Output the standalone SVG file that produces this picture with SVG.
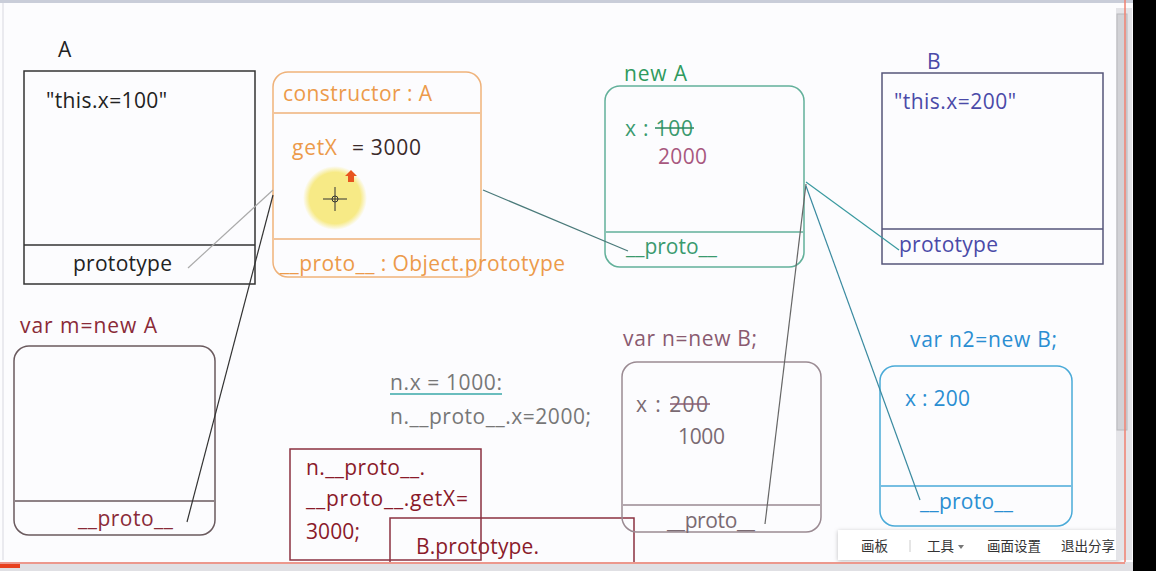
<svg xmlns="http://www.w3.org/2000/svg" width="1156" height="571" viewBox="0 0 1156 571">
<defs>
<style>
text{font-family:"Open Sans","Liberation Sans",sans-serif;font-size:21px}
.cn{font-family:"Noto Sans CJK SC","Noto Sans",sans-serif;font-size:13.5px;fill:#333}
.box{fill:none;stroke-width:1.5}
.ln{fill:none;stroke-width:1.2}
</style>
<radialGradient id="hl" cx="0.5" cy="0.5" r="0.5">
<stop offset="0.8" stop-color="#f7ea86"/>
<stop offset="1" stop-color="#f7ea86" stop-opacity="0"/>
</radialGradient>
<filter id="sh" x="-10%" y="-30%" width="120%" height="160%">
<feDropShadow dx="0" dy="1" stdDeviation="2" flood-color="#000" flood-opacity="0.25"/>
</filter>
</defs>
<rect x="0" y="0" width="1156" height="571" fill="#fcfcfe"/>
<rect x="0" y="0" width="1133" height="3" fill="#c9cdd9"/>
<line x1="3" y1="3" x2="3" y2="560" stroke="#e4e4ea" stroke-width="1.5"/>

<g id="nodeA">
<text x="58" y="57" fill="#222" textLength="15">A</text>
<rect class="box" x="24" y="71" width="231" height="213" stroke="#333"/>
<line x1="24" y1="245" x2="255" y2="245" stroke="#333" stroke-width="1.5"/>
<text x="46" y="108" fill="#222" textLength="121">"this.x=100"</text>
<text x="73" y="271" fill="#222" textLength="99">prototype</text>
</g>

<g id="protoA">
<rect class="box" x="273" y="72" width="208" height="205" rx="15" stroke="#efb27a"/>
<line x1="274" y1="113" x2="480" y2="113" stroke="#efb27a" stroke-width="1.5"/>
<line x1="274" y1="239" x2="480" y2="239" stroke="#efb27a" stroke-width="1.5"/>
<text x="283" y="101" fill="#ec9a4a" textLength="149">constructor : A</text>
<text x="292" y="155" fill="#ec9a4a" textLength="45">getX</text>
<text x="352" y="155" fill="#3a2a2a" textLength="69">= 3000</text>
<text x="280" y="271" fill="#ec9a4a" textLength="285">__proto__ : Object.prototype</text>
<circle cx="335" cy="198" r="32" fill="url(#hl)"/>
<line x1="323" y1="199" x2="347" y2="199" stroke="#333" stroke-width="1"/>
<line x1="335" y1="187" x2="335" y2="211" stroke="#333" stroke-width="1"/>
<circle cx="335" cy="199" r="3" fill="none" stroke="#333" stroke-width="1"/>
<path d="M351 170 L357 176 L354 176 L354 182 L348 182 L348 176 L345 176 Z" fill="#e8541e"/>
</g>

<g id="newA">
<text x="624" y="81" fill="#2f9a5e" textLength="63">new A</text>
<rect class="box" x="605" y="86" width="199" height="181" rx="15" stroke="#62b09a"/>
<line x1="606" y1="232" x2="803" y2="232" stroke="#62b09a" stroke-width="1.5"/>
<text x="625" y="136" fill="#3a9a6e" textLength="68">x : 100</text>
<line x1="655" y1="128" x2="694" y2="128" stroke="#2a8a5e" stroke-width="1.5"/>
<text x="658" y="164" fill="#a8587e" textLength="49">2000</text>
<text x="626" y="254" fill="#3a9a6e" textLength="91">__proto__</text>
</g>

<g id="nodeB">
<text x="927" y="69" fill="#4a4aa8" textLength="12">B</text>
<rect class="box" x="882" y="73" width="221" height="191" stroke="#55557a"/>
<line x1="882" y1="229" x2="1103" y2="229" stroke="#55557a" stroke-width="1.5"/>
<text x="894" y="109" fill="#4a4aa8" textLength="122">"this.x=200"</text>
<text x="899" y="252" fill="#4a4aa8" textLength="99">prototype</text>
</g>

<g id="objM">
<text x="20" y="333" fill="#8a2a38" textLength="137">var m=new A</text>
<rect class="box" x="14" y="346" width="201" height="189" rx="15" stroke="#6a5a5e"/>
<line x1="15" y1="501" x2="214" y2="501" stroke="#6a5a5e" stroke-width="1.5"/>
<text x="78" y="526" fill="#8a2a38" textLength="95">__proto__</text>
</g>

<g id="notes">
<text x="390" y="390" fill="#777" textLength="112">n.x = 1000:</text>
<line x1="390" y1="394" x2="502" y2="394" stroke="#3aa8a8" stroke-width="1.5"/>
<text x="390" y="424" fill="#777" textLength="201">n.__proto__.x=2000;</text>
</g>

<g id="codeBox">
<rect class="box" x="290" y="449" width="191" height="111" stroke="#8a3040"/>
<text x="306" y="475" fill="#8a1a2a" textLength="119">n.__proto__.</text>
<text x="306" y="506" fill="#8a1a2a" textLength="162">__proto__.getX=</text>
<text x="306" y="539" fill="#8a1a2a" textLength="54">3000;</text>
</g>

<g id="bProtoBox">
<rect class="box" x="390" y="518" width="244" height="50" stroke="#8a3040"/>
<text x="416" y="554" fill="#8a1a2a" textLength="123">B.prototype.</text>
</g>

<g id="objN">
<text x="623" y="346" fill="#8a5a70" textLength="134">var n=new B;</text>
<rect class="box" x="622" y="362" width="199" height="170" rx="15" stroke="#9a8a92"/>
<line x1="623" y1="505" x2="820" y2="505" stroke="#9a8a92" stroke-width="1.5"/>
<text x="636" y="412" fill="#7a6a72" textLength="72">x : 200</text>
<line x1="670" y1="404" x2="710" y2="404" stroke="#8a5a70" stroke-width="1.5"/>
<text x="678" y="444" fill="#7a6a72" textLength="47">1000</text>
<text x="667" y="528" fill="#7a6a72" textLength="88">__proto__</text>
</g>

<g id="objN2">
<text x="910" y="347" fill="#2a8ed2" textLength="147">var n2=new B;</text>
<rect class="box" x="880" y="366" width="192" height="160" rx="15" stroke="#4aaad8"/>
<line x1="881" y1="486" x2="1071" y2="486" stroke="#4aaad8" stroke-width="1.5"/>
<text x="905" y="406" fill="#2a8ed2" textLength="65">x : 200</text>
<text x="920" y="509" fill="#2a8ed2" textLength="93">__proto__</text>
</g>

<g id="connectors">
<line class="ln" x1="188" y1="268" x2="273" y2="190" stroke="#aaaaaa"/>
<line class="ln" x1="187" y1="522" x2="273" y2="195" stroke="#333"/>
<line class="ln" x1="483" y1="190" x2="628" y2="251" stroke="#4a7a7a"/>
<line class="ln" x1="806" y1="182" x2="899" y2="250" stroke="#3a9aa0"/>
<line class="ln" x1="765" y1="524" x2="806" y2="184" stroke="#666"/>
<line class="ln" x1="806" y1="186" x2="920" y2="500" stroke="#3a8aa0"/>
</g>

<g id="toolbar">
<rect x="838" y="530" width="282" height="30" fill="#fff" filter="url(#sh)"/>
<text class="cn" x="861" y="551">画板</text>
<line x1="910" y1="540" x2="910" y2="552" stroke="#ccc"/>
<text class="cn" x="927" y="551">工具</text>
<path d="M958 545 L964 545 L961 549 Z" fill="#777"/>
<text class="cn" x="987" y="551">画面设置</text>
<text class="cn" x="1061" y="551">退出分享</text>
</g>

<g id="chrome">
<rect x="1116" y="8" width="16" height="552" fill="#e4e4e8"/>
<rect x="1117" y="14" width="10" height="416" fill="#d2d2d6" stroke="#b8b8bc" stroke-width="1"/>
<line x1="1125" y1="0" x2="1125" y2="565" stroke="#f08070" stroke-width="1.5"/>
<rect x="1133" y="0" width="23" height="571" fill="#000"/>
<rect x="0" y="562" width="1133" height="9" fill="#e0e0e4"/>
<line x1="0" y1="563" x2="1125" y2="563" stroke="#f08070" stroke-width="1.5"/>
<rect x="0" y="564" width="20" height="4" fill="#e8401e"/>
</g>
</svg>
